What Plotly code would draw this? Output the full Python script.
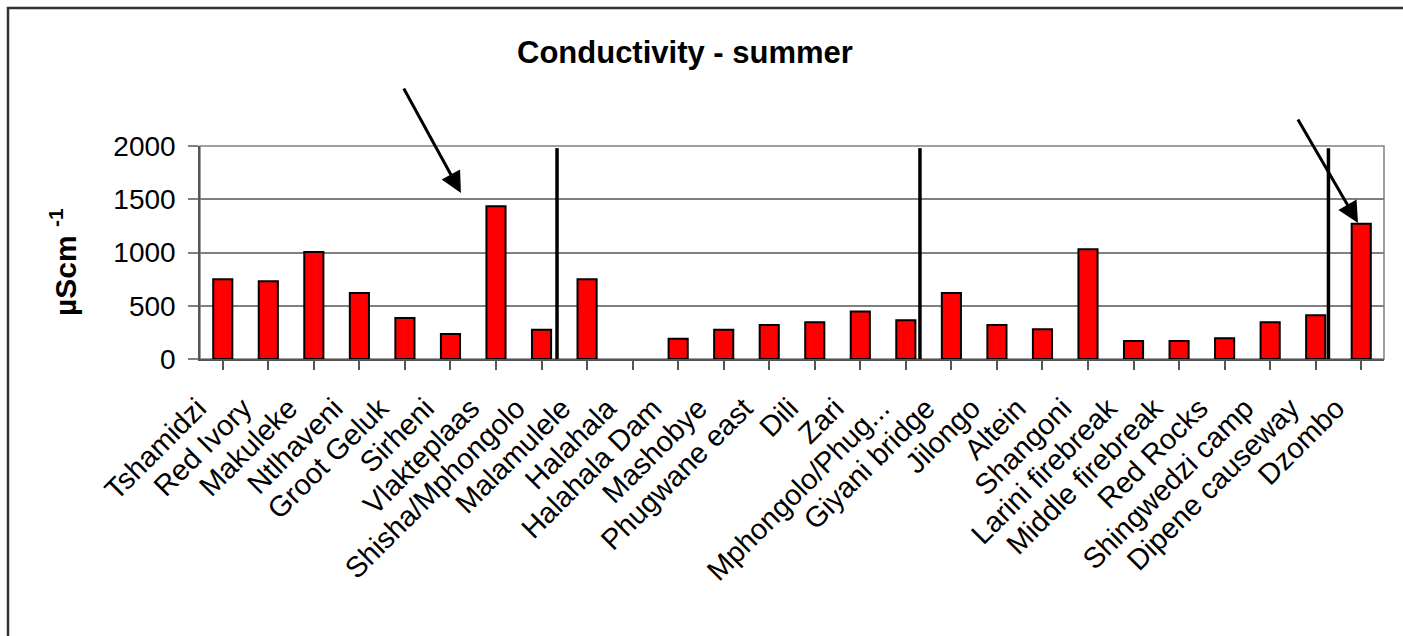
import plotly.graph_objects as go

# Sampling sites along the river system
sites = [
    "Tshamidzi", "Red Ivory", "Makuleke", "Ntlhaveni", "Groot Geluk", "Sirheni",
    "Vlakteplaas", "Shisha/Mphongolo", "Malamulele", "Halahala", "Halahala Dam",
    "Mashobye", "Phugwane east", "Dili", "Zari", "Mphongolo/Phug...",
    "Giyani bridge", "Jilongo", "Altein", "Shangoni", "Larini firebreak",
    "Middle firebreak", "Red Rocks", "Shingwedzi camp", "Dipene causeway", "Dzombo",
]

# Summer conductivity (µS/cm); Halahala has no reading
conductivity = [
    750, 730, 1005, 620, 385, 235,
    1435, 275, 750, None, 190,
    275, 320, 345, 445, 365,
    620, 320, 280, 1030, 170,
    170, 195, 345, 410, 1270,
]

# Catchment dividers (category-axis positions) and highlighted sites
divider_x = [7.34, 15.31, 24.28]
divider_top = 1980
highlight_sites = ["Vlakteplaas", "Dzombo"]

FONT = "Liberation Sans, Arial, sans-serif"
W, H = 1403, 636
L, R, T, B = 200, 19, 146, 277
PW, PH = W - L - R, H - T - B

fig = go.Figure(
    go.Bar(
        x=list(range(len(sites))),
        y=conductivity,
        marker=dict(color="#FF0000", line=dict(color="#000000", width=2)),
        width=0.42,
    )
)

# Divider lines between catchments
for xv in divider_x:
    fig.add_shape(type="line", xref="x", yref="y", x0=xv, x1=xv, y0=0, y1=divider_top,
                  line=dict(color="#000000", width=3.5), layer="above")

# Plot-area border
fig.add_shape(type="rect", xref="paper", yref="paper", x0=0, x1=1, y0=0, y1=1,
              line=dict(color="#808080", width=1.5), layer="below")

# Outer chart frame
fig.add_shape(type="rect", xref="paper", yref="paper",
              x0=(8 - L) / PW, x1=(W + 10 - L) / PW,
              y0=-(H + 10 - T - PH) / PH, y1=(T + PH - 8) / PH,
              line=dict(color="#333333", width=2.5))

# Arrows pointing at the highlighted sites: (tail dx px, tail dy px, tip y, tip offset)
arrow_specs = {"Vlakteplaas": (-58, -106, 1559, -0.77), "Dzombo": (-61, -105, 1277, -0.07)}
for s in highlight_sites:
    ax, ay, yv, dx = arrow_specs[s]
    fig.add_annotation(x=sites.index(s) + dx, y=yv, xref="x", yref="y",
                       ax=ax, ay=ay, axref="pixel", ayref="pixel",
                       showarrow=True, arrowhead=2, arrowsize=1.4, arrowwidth=3,
                       arrowcolor="#000000", standoff=0, text="")

# Chart title
fig.add_annotation(text="<b>Conductivity - summer</b>", xref="paper", yref="paper",
                   x=(685 - L) / PW, y=(T + PH - 53) / PH,
                   xanchor="center", yanchor="middle", showarrow=False,
                   font=dict(family=FONT, size=31, color="#000000"))

# Y-axis unit label
fig.add_annotation(text="<b>µScm <sup>-1</sup></b>", xref="paper", yref="paper",
                   x=(63 - L) / PW, y=(T + PH - 262) / PH,
                   xanchor="center", yanchor="middle", textangle=-90, showarrow=False,
                   font=dict(family=FONT, size=30, color="#000000"))

fig.update_layout(
    width=W, height=H,
    margin=dict(l=L, r=R, t=T, b=B, autoexpand=False),
    paper_bgcolor="#FFFFFF", plot_bgcolor="#FFFFFF",
    showlegend=False,
    font=dict(family=FONT, size=28, color="#000000"),
    xaxis=dict(
        tickmode="array", tickvals=list(range(len(sites))), ticktext=sites,
        range=[-0.5, len(sites) - 0.5], tickangle=-45,
        showgrid=False, zeroline=False,
        showline=True, linecolor="#555555", linewidth=1.5,
        ticks="outside", ticklen=9, tickcolor="#555555", tickwidth=1.5,
        ticklabelstandoff=10, ticklabelshift=-25,
        tickfont=dict(family=FONT, size=29, color="#000000"),
    ),
    yaxis=dict(
        range=[0, 2000], dtick=500, tick0=0,
        showgrid=True, gridcolor="#808080", gridwidth=1.5,
        zeroline=False,
        showline=True, linecolor="#555555", linewidth=1.5,
        ticks="outside", ticklen=10, tickcolor="#808080", tickwidth=1.5,
        ticklabelstandoff=7,
        tickfont=dict(family=FONT, size=28, color="#000000"),
    ),
)

fig.write_html("out.html")
